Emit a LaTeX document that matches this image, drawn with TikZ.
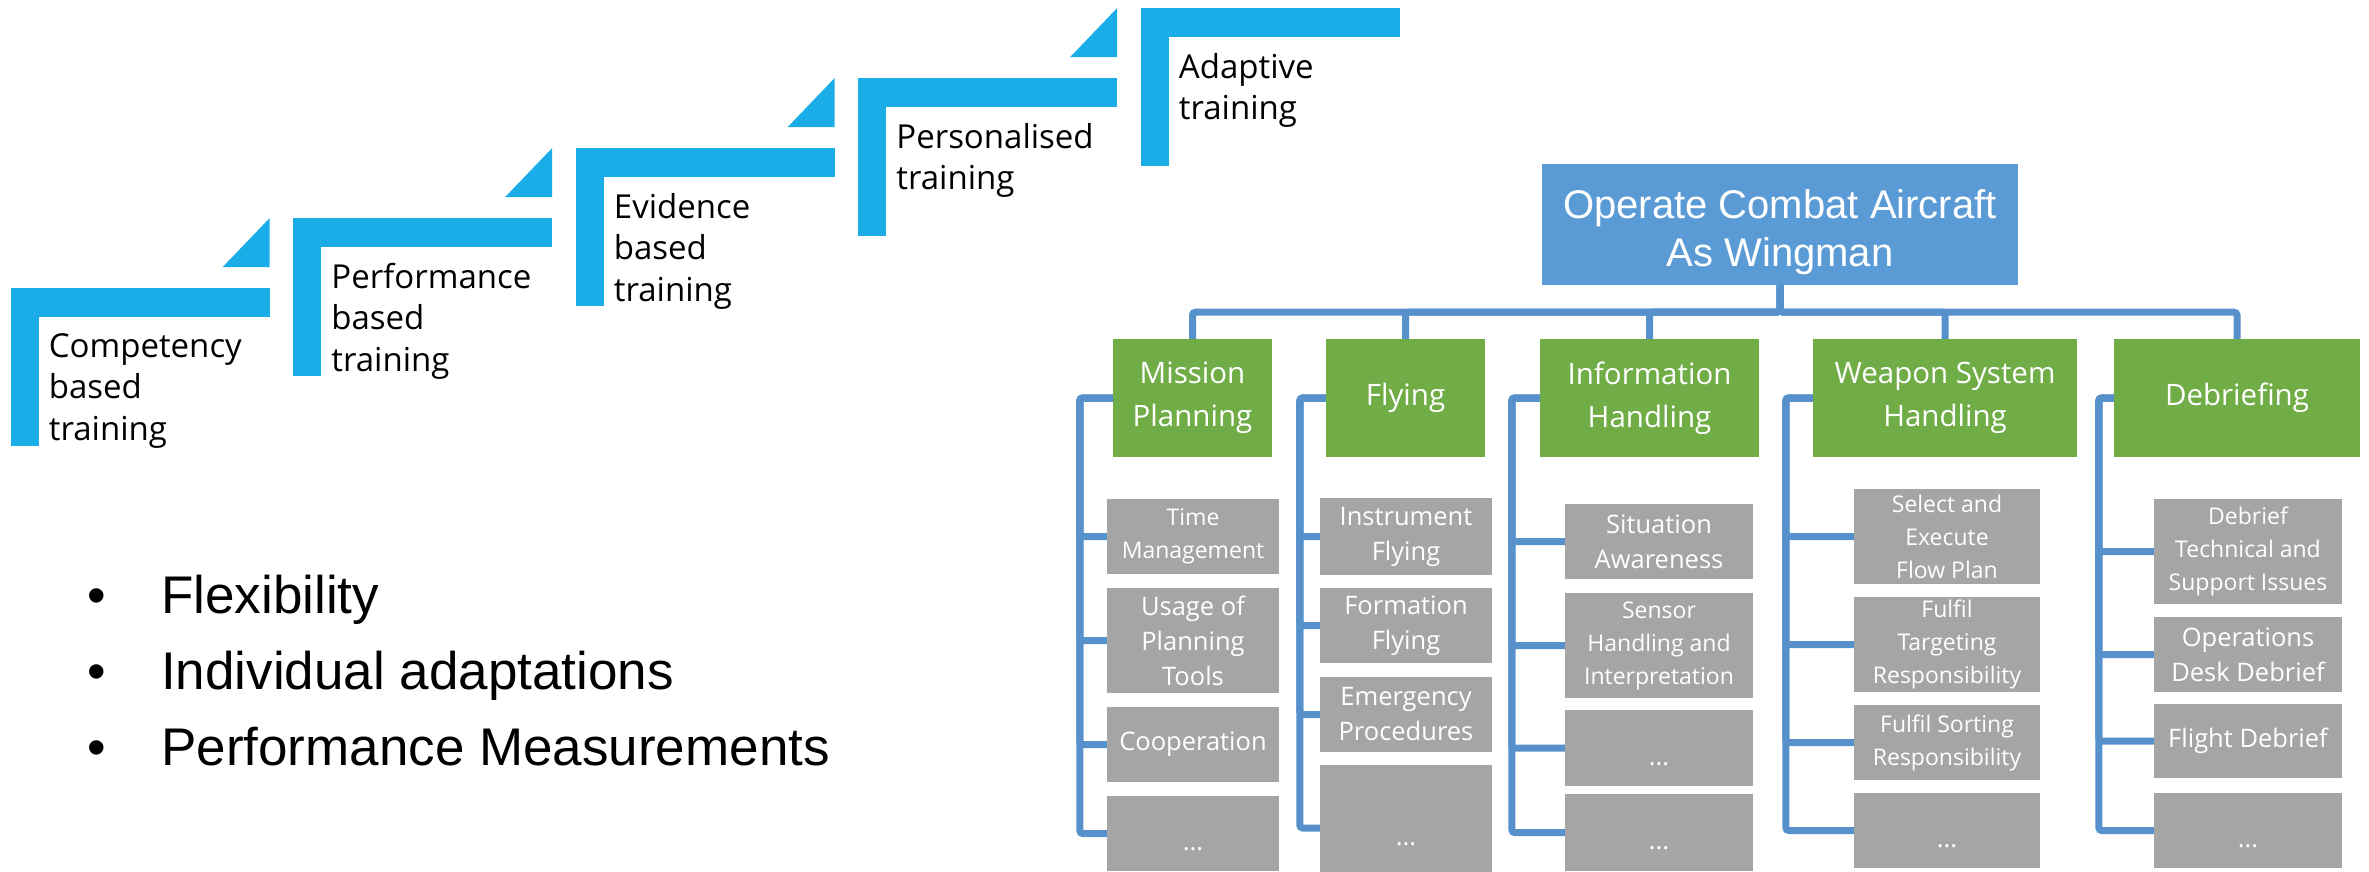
\documentclass[tikz,border=0pt]{standalone}
\usepackage{fontspec}
\setmainfont{Open Sans}
\newfontfamily\arialfont{Liberation Sans}
\definecolor{stepblue}{RGB}{27,173,232}
\definecolor{rootblue}{RGB}{91,155,213}
\definecolor{linkblue}{RGB}{86,145,204}
\definecolor{taskgreen}{RGB}{112,173,71}
\definecolor{subgray}{RGB}{165,165,165}
\tikzset{xy/.style={x={#1},y={-#1}}}
\tikzset{steptext/.style={anchor=north west,inner sep=0pt,align=left,font={\fontsize{33}{41.5}\selectfont}}}
\tikzset{bullettext/.style={inner sep=0pt,font={\arialfont\fontsize{53}{76}\selectfont}}}
\tikzset{rootbox/.style={fill=rootblue,text=white,inner sep=0pt,align=center,font={\arialfont\fontsize{40}{48}\selectfont}}}
\tikzset{taskbox/.style={fill=taskgreen,text=white,inner sep=0pt,align=center,minimum height=118pt,font={\fontsize{29.5}{43}\selectfont}}}
\tikzset{subbox/.style={fill=subgray,text=white,inner sep=0pt,align=center,font={\fontsize{25.5}{35}\selectfont}}}
\tikzset{subsmall/.style={subbox,font={\fontsize{23}{33}\selectfont}}}
\tikzset{link/.style={draw=linkblue,line width=7pt,rounded corners=3pt}}

\begin{document}
\begin{tikzpicture}[xy=1pt]%
    \path [use as bounding box] (0,0) rectangle (2369,871);
    % stairs
    \foreach \k in {0,...,4} {
        \path [fill=stepblue] (10.7+282.5*\k,288-70*\k) rectangle ++(259,29);
        \path [fill=stepblue] (10.7+282.5*\k,288-70*\k) rectangle ++(28,158);
    }
    \foreach \k in {0,...,3} {
        \path [fill=stepblue] (222.7+282.5*\k,267-70*\k) -- ++(47,0) -- ++(0,-49) -- cycle;
    }
    \foreach \k/\txt in {0/{Competency\\based\\training},1/{Performance\\based\\training},
        2/{Evidence\\based\\training},3/{Personalised\\training},4/{Adaptive\\training}} {
        \node [steptext] (s\k) at (48.7+282.5*\k,333-70*\k) {\txt};
    }
    % bullets
    \foreach \k/\y/\txt in {1/613/Flexibility,2/689/Individual adaptations,3/765/Performance Measurements} {
        \node [bullettext,anchor=base] (d\k) at (97,\y) {\textbullet};
        \node [bullettext,anchor=base west] (b\k) at (161,\y) {\txt};
    }
    % hierarchy
    \node [rootbox,minimum width=476pt,minimum height=121pt] (root) at (1780,224.5) {\rule{0pt}{45pt}Operate Combat Aircraft\\As Wingman};
    \node [taskbox,minimum width=159pt] (mp) at (1192.5,398) {Mission\\Planning};
    \node [taskbox,minimum width=159pt] (fl) at (1405.5,398) {Flying};
    \node [taskbox,minimum width=219pt] (ih) at (1649.5,398) {Information\\Handling};
    \node [taskbox,minimum width=264pt] (ws) at (1945,398) {Weapon System\\Handling};
    \node [taskbox,minimum width=246pt] (db) at (2237,398) {Debriefing};
    \foreach \g in {mp,fl,ih,ws,db} {
        \path [link] (root.south) -- ++(0,27) -| (\g.north);
    }
    % mission planning
    \node [subsmall,minimum width=172pt,minimum height=75pt] (mp1) at (1193,536.5) {Time\\Management};
    \node [subbox,minimum width=172pt,minimum height=105pt] (mp2) at (1193,640.5) {Usage of\\Planning\\Tools};
    \node [subbox,minimum width=172pt,minimum height=75pt] (mp3) at (1193,744.5) {Cooperation};
    \node [subbox,minimum width=172pt,minimum height=75pt] (mp4) at (1193,833.5) {\mbox{}\\...};
    % flying
    \node [subbox,minimum width=172pt,minimum height=77pt] (fl1) at (1406,536.5) {Instrument\\Flying};
    \node [subbox,minimum width=172pt,minimum height=75pt] (fl2) at (1406,625.5) {Formation\\Flying};
    \node [subbox,minimum width=172pt,minimum height=75pt] (fl3) at (1406,714.5) {Emergency\\Procedures};
    \node [subbox,minimum width=172pt,minimum height=126pt] (fl4) at (1406,828) {\mbox{}\\...};
    % information handling
    \node [subbox,minimum width=188pt,minimum height=75pt] (ih1) at (1659,541.5) {Situation\\Awareness};
    \node [subsmall,minimum width=188pt,minimum height=105pt] (ih2) at (1659,645.5) {Sensor\\Handling and\\Interpretation};
    \node [subbox,minimum width=188pt,minimum height=76pt] (ih3) at (1659,748) {\mbox{}\\...};
    \node [subbox,minimum width=188pt,minimum height=77pt] (ih4) at (1659,832.5) {\mbox{}\\...};
    % weapon system handling
    \node [subsmall,minimum width=186pt,minimum height=95pt] (ws1) at (1947,536.5) {Select and\\Execute\\Flow Plan};
    \node [subsmall,minimum width=186pt,minimum height=95pt] (ws2) at (1947,644.5) {Fulfil\\Targeting\\Responsibility};
    \node [subsmall,minimum width=186pt,minimum height=75pt] (ws3) at (1947,742.5) {Fulfil Sorting\\Responsibility};
    \node [subbox,minimum width=186pt,minimum height=75pt] (ws4) at (1947,830.5) {\mbox{}\\...};
    % debriefing
    \node [subsmall,minimum width=188pt,minimum height=105pt] (db1) at (2248,551.5) {Debrief\\Technical and\\Support Issues};
    \node [subbox,minimum width=188pt,minimum height=75pt] (db2) at (2248,654.5) {Operations\\Desk Debrief};
    \node [subbox,minimum width=188pt,minimum height=74pt] (db3) at (2248,741) {Flight Debrief};
    \node [subbox,minimum width=188pt,minimum height=75pt] (db4) at (2248,830.5) {\mbox{}\\...};
    \foreach \g/\d in {mp/33,fl/26,ih/28,ws/27,db/15}
    \foreach \k in {1,...,4} {
        \path [link] (\g.west) -- ++(-\d,0) |- (\g\k.west);
    }
\end{tikzpicture}
\end{document}
